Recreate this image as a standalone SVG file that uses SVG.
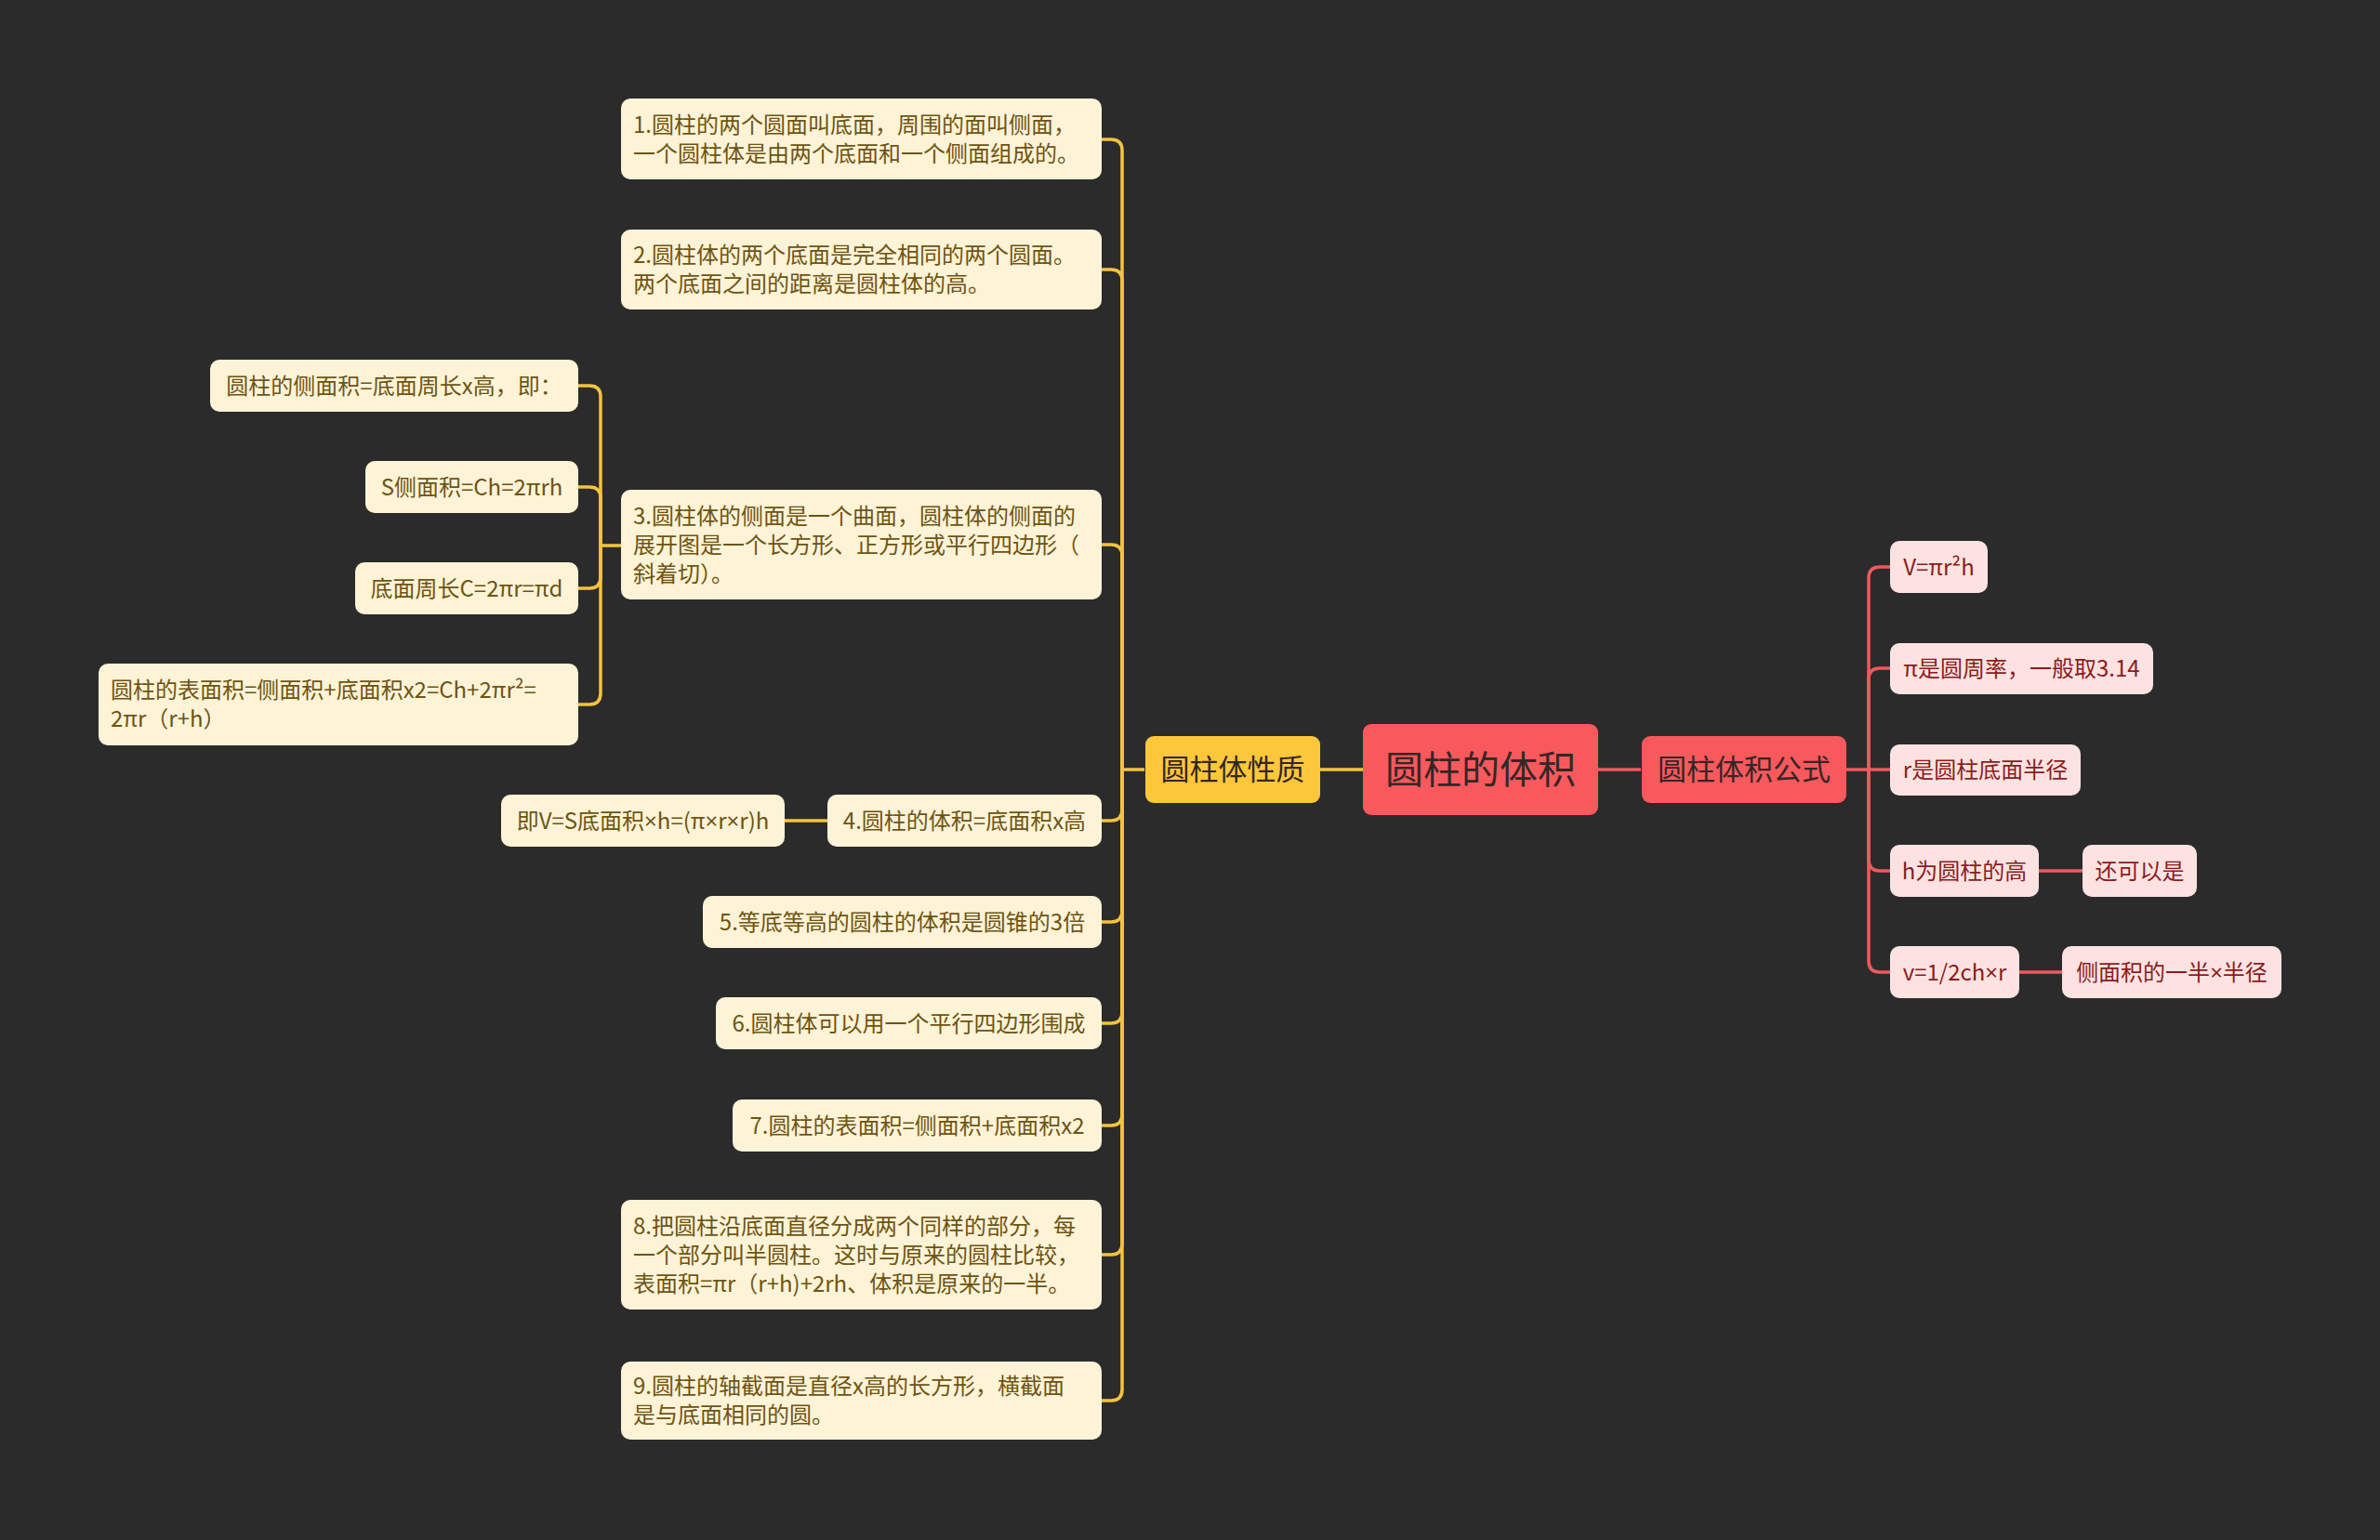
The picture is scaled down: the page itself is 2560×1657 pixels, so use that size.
<svg xmlns="http://www.w3.org/2000/svg" width="2560" height="1657" viewBox="0 0 2560 1657">
<style>
text{font-family:"Noto Sans CJK SC","Noto Sans",sans-serif;}
.lat{font-family:"Noto Sans","Liberation Sans",sans-serif;}
.cream{fill:#fdf3d7;}
.ct{fill:#6e5412;font-size:24px;}
.pink{fill:#fde2e2;}
.pt{fill:#8a1c1c;font-size:24px;}
.ylw{fill:#fcc83a;}
.red{fill:#f8595d;}
.mt{fill:#352626;font-size:31px;}
.ctr{fill:#352626;font-size:41px;}
.cy{fill:none;stroke:#f4c43f;stroke-width:3.5;}
.cr{fill:none;stroke:#ee5a5e;stroke-width:3.5;}
.m{text-anchor:middle;}
</style>
<rect x="0" y="0" width="2560" height="1657" fill="#2b2b2b"/>
<g id="connectors">
  <path class="cy" d="M1420,828 H1466"/>
  <path class="cr" d="M1719,828 H1765"/>
  <path class="cy" d="M1231,828 H1207 V162 Q1207,150 1195,150 H1185"/>
  <path class="cy" d="M1207,828 V302 Q1207,290 1195,290 H1185"/>
  <path class="cy" d="M1207,828 V598 Q1207,586 1195,586 H1185"/>
  <path class="cy" d="M1207,828 V871 Q1207,883 1195,883 H1185"/>
  <path class="cy" d="M1207,828 V980 Q1207,992 1195,992 H1185"/>
  <path class="cy" d="M1207,828 V1089 Q1207,1101 1195,1101 H1185"/>
  <path class="cy" d="M1207,828 V1199 Q1207,1211 1195,1211 H1185"/>
  <path class="cy" d="M1207,828 V1338 Q1207,1350 1195,1350 H1185"/>
  <path class="cy" d="M1207,828 V1495 Q1207,1507 1195,1507 H1185"/>
  <path class="cy" d="M890,883 H844"/>
  <path class="cy" d="M668,587 H646 V427 Q646,415 634,415 H622"/>
  <path class="cy" d="M646,587 V536 Q646,524 634,524 H622"/>
  <path class="cy" d="M646,587 V621 Q646,633 634,633 H622"/>
  <path class="cy" d="M646,587 V746 Q646,758 634,758 H622"/>
  <path class="cr" d="M1986,828 H2010 V622 Q2010,610 2022,610 H2033"/>
  <path class="cr" d="M2010,828 V731 Q2010,719 2022,719 H2033"/>
  <path class="cr" d="M2010,828 H2033"/>
  <path class="cr" d="M2010,828 V925 Q2010,937 2022,937 H2033"/>
  <path class="cr" d="M2010,828 V1034 Q2010,1046 2022,1046 H2033"/>
  <path class="cr" d="M2193,937 H2240"/>
  <path class="cr" d="M2172,1046 H2218"/>
</g>
<g id="center">
  <rect class="red" x="1466" y="779" width="253" height="98" rx="9"/>
  <text class="ctr m" x="1592.5" y="843">圆柱的体积</text>
</g>
<g id="b-xingzhi">
  <rect class="ylw" x="1232" y="792" width="188" height="72" rx="9"/>
  <text class="mt m" x="1326" y="839">圆柱体性质</text>
</g>
<g id="b-gongshi">
  <rect class="red" x="1766" y="792" width="220" height="72" rx="9"/>
  <text class="mt m" x="1876" y="839">圆柱体积公式</text>
</g>
<g id="n1">
  <rect class="cream" x="668" y="106" width="517" height="87" rx="10"/>
  <text class="ct" x="681" y="142.5">1.圆柱的两个圆面叫底面，周围的面叫侧面，</text>
  <text class="ct" x="681" y="173.5">一个圆柱体是由两个底面和一个侧面组成的。</text>
</g>
<g id="n2">
  <rect class="cream" x="668" y="247" width="517" height="86" rx="10"/>
  <text class="ct" x="681" y="283">2.圆柱体的两个底面是完全相同的两个圆面。</text>
  <text class="ct" x="681" y="314">两个底面之间的距离是圆柱体的高。</text>
</g>
<g id="n3">
  <rect class="cream" x="668" y="527" width="517" height="118" rx="10"/>
  <text class="ct" x="681" y="563.5">3.圆柱体的侧面是一个曲面，圆柱体的侧面的</text>
  <text class="ct" x="681" y="594.5">展开图是一个长方形、正方形或平行四边形（</text>
  <text class="ct" x="681" y="625.5">斜着切）。</text>
</g>
<g id="n3a">
  <rect class="cream" x="226" y="387" width="396" height="56" rx="10"/>
  <text class="ct m" x="424" y="423.5">圆柱的侧面积=底面周长x高，即：</text>
</g>
<g id="n3b">
  <rect class="cream" x="393" y="496" width="229" height="56" rx="10"/>
  <text class="ct m" x="507.5" y="532.5">S侧面积=Ch=2πrh</text>
</g>
<g id="n3c">
  <rect class="cream" x="382" y="605" width="240" height="56" rx="10"/>
  <text class="ct m" x="502" y="641.5">底面周长C=2πr=πd</text>
</g>
<g id="n3d">
  <rect class="cream" x="106" y="714" width="516" height="88" rx="10"/>
  <text class="ct" x="119" y="751">圆柱的表面积=侧面积+底面积x2=Ch+2πr²=</text>
  <text class="ct" x="119" y="782">2πr（r+h）</text>
</g>
<g id="n4">
  <rect class="cream" x="890" y="855" width="295" height="56" rx="10"/>
  <text class="ct m" x="1037.5" y="891.5">4.圆柱的体积=底面积x高</text>
</g>
<g id="n4a">
  <rect class="cream" x="539" y="855" width="305" height="56" rx="10"/>
  <text class="ct m" x="691.5" y="891.5">即V=S底面积<tspan class="lat">×</tspan>h=(π<tspan class="lat">×</tspan>r<tspan class="lat">×</tspan>r)h</text>
</g>
<g id="n5">
  <rect class="cream" x="756" y="964" width="429" height="56" rx="10"/>
  <text class="ct m" x="970.5" y="1000.5">5.等底等高的圆柱的体积是圆锥的3倍</text>
</g>
<g id="n6">
  <rect class="cream" x="770" y="1073" width="415" height="56" rx="10"/>
  <text class="ct m" x="977.5" y="1109.5">6.圆柱体可以用一个平行四边形围成</text>
</g>
<g id="n7">
  <rect class="cream" x="788" y="1183" width="397" height="56" rx="10"/>
  <text class="ct m" x="986.5" y="1219.5">7.圆柱的表面积=侧面积+底面积x2</text>
</g>
<g id="n8">
  <rect class="cream" x="668" y="1291" width="517" height="118" rx="10"/>
  <text class="ct" x="681" y="1327.5">8.把圆柱沿底面直径分成两个同样的部分，每</text>
  <text class="ct" x="681" y="1358.5">一个部分叫半圆柱。这时与原来的圆柱比较，</text>
  <text class="ct" x="681" y="1389.5">表面积=πr（r+h)+2rh、体积是原来的一半。</text>
</g>
<g id="n9">
  <rect class="cream" x="668" y="1465" width="517" height="84" rx="10"/>
  <text class="ct" x="681" y="1500">9.圆柱的轴截面是直径x高的长方形，横截面</text>
  <text class="ct" x="681" y="1531">是与底面相同的圆。</text>
</g>
<g id="r1">
  <rect class="pink" x="2033" y="582" width="105" height="56" rx="10"/>
  <text class="pt m" x="2085.5" y="618.5">V=πr²h</text>
</g>
<g id="r2">
  <rect class="pink" x="2033" y="692" width="283" height="55" rx="10"/>
  <text class="pt m" x="2174.5" y="728">π是圆周率，一般取3.14</text>
</g>
<g id="r3">
  <rect class="pink" x="2033" y="801" width="205" height="55" rx="10"/>
  <text class="pt m" x="2135.5" y="837">r是圆柱底面半径</text>
</g>
<g id="r4">
  <rect class="pink" x="2033" y="909" width="160" height="56" rx="10"/>
  <text class="pt m" x="2113" y="945.5">h为圆柱的高</text>
</g>
<g id="r4a">
  <rect class="pink" x="2240" y="909" width="123" height="56" rx="10"/>
  <text class="pt m" x="2301.5" y="945.5">还可以是</text>
</g>
<g id="r5">
  <rect class="pink" x="2033" y="1018" width="139" height="56" rx="10"/>
  <text class="pt m" x="2102.5" y="1054.5">v=1/2ch<tspan class="lat">×</tspan>r</text>
</g>
<g id="r5a">
  <rect class="pink" x="2218" y="1018" width="236" height="56" rx="10"/>
  <text class="pt m" x="2336" y="1054.5">侧面积的一半<tspan class="lat">×</tspan>半径</text>
</g>
</svg>
